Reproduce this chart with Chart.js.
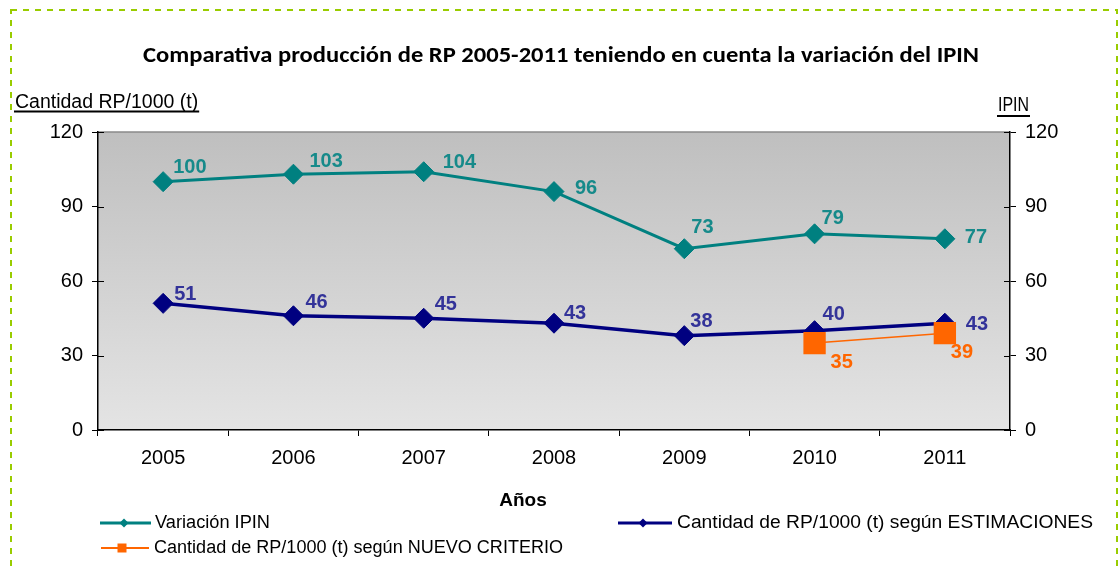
<!DOCTYPE html>
<html>
<head>
<meta charset="utf-8">
<script src="https://cdn.jsdelivr.net/npm/chart.js@4.4.1/dist/chart.umd.min.js"></script>
<style>
  html, body { margin: 0; padding: 0; background: #fff; }
  #wrap { width: 1119px; height: 571px; }
</style>
</head>
<body>
<div id="wrap"><canvas id="rpChart" width="1119" height="571"></canvas></div>
<script>
'use strict';

// ------------------ data ------------------
const years = ['2005', '2006', '2007', '2008', '2009', '2010', '2011'];
const ipinValues = [100, 103, 104, 96, 73, 79, 77];
const estimacionesValues = [51, 46, 45, 43, 38, 40, 43];
const nuevoCriterioValues = [null, null, null, null, null, 35, 39];
const axisTicks = [0, 30, 60, 90, 120];

const seriesNames = [
  'Variación IPIN',
  'Cantidad de RP/1000 (t) según ESTIMACIONES',
  'Cantidad de RP/1000 (t) según NUEVO CRITERIO'
];
const chartTitle = 'Comparativa producción de RP 2005-2011 teniendo en cuenta la variación del IPIN';
const leftAxisTitle = 'Cantidad RP/1000 (t)';
const rightAxisTitle = 'IPIN';
const xAxisTitle = 'Años';

// ------------------ label placement (px from the point, text left / middle) ------------------
const ipinLabelOffsets = [[10, -14], [16, -13], [19, -9], [21, -3], [7, -21], [7, -15], [20, -1]];
const estLabelOffsets = [[11, -9], [12, -13], [11, -14], [10, -10], [6, -14], [8, -16], [21, 1]];
const nuevoLabelOffsets = [null, null, null, null, null, [16, 19], [6, 19]];

const TEAL = '#008080';
const NAVY = '#000080';
const ORANGE = '#ff6600';
const FONT = '"Liberation Sans", Arial, sans-serif';

// tw = width the legend text takes in the original
const legendSpots = [
  { x1: 100, x2: 151, y: 523, mx: 124, tx: 155, tw: 115 },
  { x1: 618, x2: 672, y: 523, mx: 643, tx: 677, tw: 416 },
  { x1: 101, x2: 149, y: 548, mx: 122, tx: 154, tw: 409 }
];

// ------------------ plugins ------------------
const backdropPlugin = {
  id: 'backdrop',
  beforeDraw(chart) {
    const ctx = chart.ctx;
    const a = chart.chartArea;
    ctx.save();
    ctx.fillStyle = '#fff';
    ctx.fillRect(0, 0, chart.width, chart.height);

    // dashed frame
    ctx.strokeStyle = '#99cc00';
    ctx.lineWidth = 2;
    ctx.setLineDash([6, 6]);
    ctx.strokeRect(11, 10, 1106, 600);
    ctx.setLineDash([]);

    // plot area gradient
    const grad = ctx.createLinearGradient(0, a.top, 0, a.bottom);
    grad.addColorStop(0, '#bfbfbf');
    grad.addColorStop(1, '#e4e4e4');
    ctx.fillStyle = grad;
    ctx.fillRect(a.left, a.top, a.right - a.left, a.bottom - a.top);

    ctx.strokeStyle = '#8a8a8a';
    ctx.lineWidth = 1.5;
    ctx.beginPath();
    ctx.moveTo(a.left, a.top);
    ctx.lineTo(a.right, a.top);
    ctx.stroke();
    ctx.restore();
  }
};

const pointLabelPlugin = {
  id: 'pointLabels',
  afterDatasetsDraw(chart) {
    const ctx = chart.ctx;
    ctx.save();
    ctx.font = 'bold 20px ' + FONT;
    ctx.textAlign = 'left';
    ctx.textBaseline = 'middle';
    chart.data.datasets.forEach((ds, i) => {
      const meta = chart.getDatasetMeta(i);
      meta.data.forEach((pt, j) => {
        const v = ds.data[j];
        if (v === null || !ds.labelOffsets[j]) return;
        const off = ds.labelOffsets[j];
        ctx.fillStyle = ds.labelColor;
        ctx.fillText(String(v), pt.x + off[0], pt.y + off[1]);
      });
    });
    ctx.restore();
  }
};

function drawMarker(ctx, style, x, y, r, color) {
  ctx.fillStyle = color;
  ctx.beginPath();
  if (style === 'rectRot') {
    ctx.moveTo(x, y - r);
    ctx.lineTo(x + r, y);
    ctx.lineTo(x, y + r);
    ctx.lineTo(x - r, y);
    ctx.closePath();
  } else {
    ctx.rect(x - r, y - r, 2 * r, 2 * r);
  }
  ctx.fill();
}

// draws text squeezed or stretched to a given width
function fitText(ctx, text, x, y, width) {
  const w = ctx.measureText(text).width;
  ctx.save();
  ctx.translate(x, y);
  ctx.scale(width / w, 1);
  ctx.fillText(text, 0, 0);
  ctx.restore();
}

const textPlugin = {
  id: 'texts',
  afterDraw(chart) {
    const ctx = chart.ctx;
    const a = chart.chartArea;
    ctx.save();
    ctx.fillStyle = '#000';

    // title
    ctx.font = 'bold 23px Carlito, "Open Sans", sans-serif';
    ctx.textBaseline = 'alphabetic';
    ctx.textAlign = 'left';
    fitText(ctx, chartTitle, 143, 62, 836);

    // axis titles with underline
    ctx.font = '19.5px ' + FONT;
    ctx.fillText(leftAxisTitle, 15, 108);
    const lw = ctx.measureText(leftAxisTitle).width;
    ctx.fillRect(14, 110.5, lw + 2, 2);

    fitText(ctx, rightAxisTitle, 998, 111, 31);
    ctx.fillRect(997, 115, 33, 2);

    ctx.font = 'bold 19px ' + FONT;
    ctx.textAlign = 'center';
    ctx.fillText(xAxisTitle, 523, 506);

    // inner halves of the y ticks
    ctx.strokeStyle = '#000';
    ctx.lineWidth = 1;
    const yScale = chart.scales.y;
    axisTicks.forEach(t => {
      const py = Math.round(yScale.getPixelForValue(t)) + 0.5;
      ctx.beginPath();
      ctx.moveTo(a.left, py);
      ctx.lineTo(a.left + 6, py);
      ctx.moveTo(a.right - 6, py);
      ctx.lineTo(a.right, py);
      ctx.stroke();
    });

    // legend
    ctx.font = '18px ' + FONT;
    ctx.textAlign = 'left';
    ctx.textBaseline = 'middle';
    chart.data.datasets.forEach((ds, i) => {
      const s = legendSpots[i];
      ctx.strokeStyle = ds.borderColor;
      ctx.lineWidth = ds.legendLine;
      ctx.beginPath();
      ctx.moveTo(s.x1, s.y);
      ctx.lineTo(s.x2, s.y);
      ctx.stroke();
      drawMarker(ctx, ds.pointStyle, s.mx, s.y, 4.5, ds.pointBackgroundColor);
      ctx.fillStyle = '#000';
      fitText(ctx, ds.label, s.tx, s.y, s.tw);
    });
    ctx.restore();
  }
};

// ------------------ chart ------------------
const ctxRp = document.getElementById('rpChart').getContext('2d');
const rpChart = new Chart(ctxRp, {
  type: 'line',
  data: {
    labels: years,
    datasets: [{
      label: seriesNames[0],
      data: ipinValues,
      yAxisID: 'y2',
      borderColor: TEAL,
      backgroundColor: TEAL,
      pointBackgroundColor: TEAL,
      pointBorderColor: TEAL,
      borderWidth: 3,
      pointStyle: 'rectRot',
      pointRadius: 10,
      pointBorderWidth: 1,
      labelColor: '#168a8a',
      labelOffsets: ipinLabelOffsets,
      legendLine: 3,
      order: 2
    }, {
      label: seriesNames[1],
      data: estimacionesValues,
      yAxisID: 'y',
      borderColor: NAVY,
      backgroundColor: NAVY,
      pointBackgroundColor: NAVY,
      pointBorderColor: NAVY,
      borderWidth: 3.5,
      pointStyle: 'rectRot',
      pointRadius: 10,
      pointBorderWidth: 1,
      labelColor: '#333399',
      labelOffsets: estLabelOffsets,
      legendLine: 3,
      order: 1
    }, {
      label: seriesNames[2],
      data: nuevoCriterioValues,
      yAxisID: 'y',
      borderColor: ORANGE,
      backgroundColor: ORANGE,
      pointBackgroundColor: ORANGE,
      pointBorderColor: ORANGE,
      borderWidth: 1.5,
      pointStyle: 'rect',
      pointRadius: 15.8,
      pointBorderWidth: 0,
      labelColor: ORANGE,
      labelOffsets: nuevoLabelOffsets,
      legendLine: 2,
      order: 0
    }]
  },
  options: {
    responsive: false,
    devicePixelRatio: 1,
    animation: false,
    layout: { padding: { top: 132, left: 0, right: 0, bottom: 0 } },
    plugins: {
      legend: { display: false },
      title: { display: false },
      tooltip: { enabled: false }
    },
    elements: { line: { tension: 0 } },
    scales: {
      x: {
        type: 'category',
        offset: true,
        grid: { offset: true, drawOnChartArea: false, tickLength: 6, color: '#000', lineWidth: 1 },
        border: { display: true, color: '#000', width: 1.5 },
        ticks: { color: '#000', font: { family: FONT, size: 20 }, padding: 10, maxRotation: 0 },
        afterFit(scale) { scale.height = 141; }
      },
      y: {
        position: 'left',
        min: 0,
        max: 120,
        afterBuildTicks(scale) { scale.ticks = axisTicks.map(v => ({ value: v })); },
        grid: { drawOnChartArea: false, tickLength: 6, color: '#000', lineWidth: 1 },
        border: { display: true, color: '#000', width: 1.5 },
        ticks: { color: '#000', font: { family: FONT, size: 20 }, padding: 9 },
        afterFit(scale) { scale.width = 98; }
      },
      y2: {
        position: 'right',
        min: 0,
        max: 120,
        afterBuildTicks(scale) { scale.ticks = axisTicks.map(v => ({ value: v })); },
        grid: { drawOnChartArea: false, tickLength: 6, color: '#000', lineWidth: 1 },
        border: { display: true, color: '#000', width: 1.5 },
        ticks: { color: '#000', font: { family: FONT, size: 20 }, padding: 9 },
        afterFit(scale) { scale.width = 109; }
      }
    }
  },
  plugins: [backdropPlugin, pointLabelPlugin, textPlugin]
});
</script>
</body>
</html>
